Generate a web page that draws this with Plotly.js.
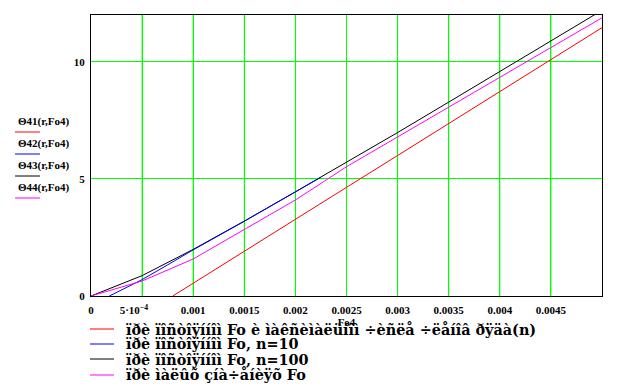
<!DOCTYPE html>
<html>
<head>
<meta charset="utf-8">
<script src="https://cdn.plot.ly/plotly-3.0.1.min.js"></script>
<style>html,body{margin:0;padding:0;background:#fff;}#chart{width:632px;height:390px;}</style>
</head>
<body>
<div id="chart"></div>
<script>
// Data
const redX = [0.0008, 0.001, 0.0015, 0.002, 0.0025, 0.003, 0.0035, 0.004, 0.0045, 0.005];
const redY = [0, 0.55, 1.92, 3.28, 4.64, 6.0, 7.37, 8.74, 10.1, 11.46];

const blueX = [0.00018, 0.0003, 0.0005, 0.00075, 0.001, 0.0015, 0.002, 0.00225];
const blueY = [0, 0.26, 0.70, 1.33, 1.97, 3.19, 4.44, 5.07];

const blackX = [0, 0.0005, 0.001, 0.0015, 0.002, 0.0025, 0.003, 0.0035, 0.004, 0.0045, 0.005];
const blackY = [0, 0.87, 1.99, 3.2, 4.45, 5.70, 6.98, 8.28, 9.58, 10.9, 12.2];

const magX = [0, 0.0005, 0.001, 0.0015, 0.002, 0.0025, 0.003, 0.0035, 0.004, 0.0045, 0.005];
const magY = [0, 0.64, 1.58, 2.84, 4.10, 5.52, 6.80, 8.07, 9.34, 10.61, 11.88];

const seriesNames = [
  "ïðè ïîñòîÿííîì Fo è ìàêñèìàëüíîì ÷èñëå ÷ëåíîâ ðÿäà(n)",
  "ïðè ïîñòîÿííîì Fo, n=10",
  "ïðè ïîñòîÿííîì Fo, n=100",
  "ïðè ìàëûõ çíà÷åíèÿõ Fo"
];
const yLabels = ["Θ41(r,Fo4)", "Θ42(r,Fo4)", "Θ43(r,Fo4)", "Θ44(r,Fo4)"];
const colors = ["#ff0000", "#0000ff", "#000000", "#ff00ff"];

const xTickVals = [0, 0.0005, 0.001, 0.0015, 0.002, 0.0025, 0.003, 0.0035, 0.004, 0.0045];
const xTickText = ["0", "5·10<sup>−4</sup>\u00a0\u00a0\u00a0\u00a0\u00a0\u00a0", "0.001", "0.0015", "0.002", "0.0025", "0.003", "0.0035", "0.004", "0.0045"];
const yTickVals = [0, 5, 10];
const yTickText = ["0", "5", "10"];

const mk = (x, y, i) => ({
  x: x, y: y, type: "scatter", mode: "lines", name: seriesNames[i],
  line: {color: colors[i], width: 1}, hoverinfo: "skip", showlegend: false
});
const traces = [
  mk(redX, redY, 0),
  mk(blackX, blackY, 2),
  mk(blueX, blueY, 1),
  mk(magX, magY, 3)
];

const L = 91, T = 15, W = 511, H = 281;
const px = v => (v - L) / W;
const py = v => (T + H - v) / H;

const tickFont = {family: "Liberation Serif", size: 11, color: "#000", weight: "bold"};

const annotations = [];
const shapes = [];
// Vertical green grid at every labelled x tick (besides the axis grid)
xTickVals.slice(1).forEach(v => {
  shapes.push({type: "line", xref: "x", yref: "paper", x0: v, x1: v, y0: 0, y1: 1,
    layer: "below", line: {color: "#00ff00", width: 1}});
});
// Left-side y labels with line samples
[121, 143, 165, 187].forEach((yy, i) => {
  annotations.push({
    text: yLabels[i], xref: "paper", yref: "paper", x: px(16), xanchor: "left",
    y: py(yy), yanchor: "middle", showarrow: false,
    font: {family: "Liberation Serif", size: 11, color: "#000", weight: "bold"}
  });
});
[132, 154, 176, 198].forEach((yy, i) => {
  shapes.push({type: "line", xref: "paper", yref: "paper", x0: px(15), x1: px(40),
    y0: py(yy), y1: py(yy), line: {color: colors[i], width: 1}});
});
// Bottom legend
[329, 344, 359, 375].forEach((yy, i) => {
  shapes.push({type: "line", xref: "paper", yref: "paper", x0: px(90), x1: px(114),
    y0: py(yy), y1: py(yy), line: {color: colors[i], width: 1}});
  annotations.push({
    text: "<b>" + seriesNames[i] + "</b>", xref: "paper", yref: "paper", x: px(124), xanchor: "left",
    y: py(yy), yanchor: "middle", showarrow: false,
    font: {family: "DejaVu Serif", size: 14.4, color: "#000", weight: "bold"}
  });
});

const layout = {
  width: 632, height: 390,
  margin: {l: L, r: 632 - L - W, t: T, b: 390 - T - H},
  paper_bgcolor: "#fff", plot_bgcolor: "#fff",
  showlegend: false,
  xaxis: {
    range: [0, 0.005], tickmode: "array", tickvals: xTickVals, ticktext: xTickText,
    automargin: false,
    showgrid: true, gridcolor: "#00ff00", gridwidth: 1,
    showline: true, linecolor: "#000", linewidth: 1, mirror: true,
    zeroline: false, ticks: "", tickfont: tickFont, ticklabelstandoff: 4,
    title: {text: "Fo4", font: {family: "Liberation Serif", size: 11, color: "#000", weight: "bold"}, standoff: 0}
  },
  yaxis: {
    range: [0, 12], tickmode: "array", tickvals: yTickVals, ticktext: yTickText,
    automargin: false,
    showgrid: true, gridcolor: "#00ff00", gridwidth: 1,
    showline: true, linecolor: "#000", linewidth: 1, mirror: true,
    zeroline: false, ticks: "", tickfont: tickFont, ticklabelstandoff: 3
  },
  annotations: annotations,
  shapes: shapes
};

Plotly.newPlot("chart", traces, layout, {displayModeBar: false, staticPlot: true});
</script>
</body>
</html>
